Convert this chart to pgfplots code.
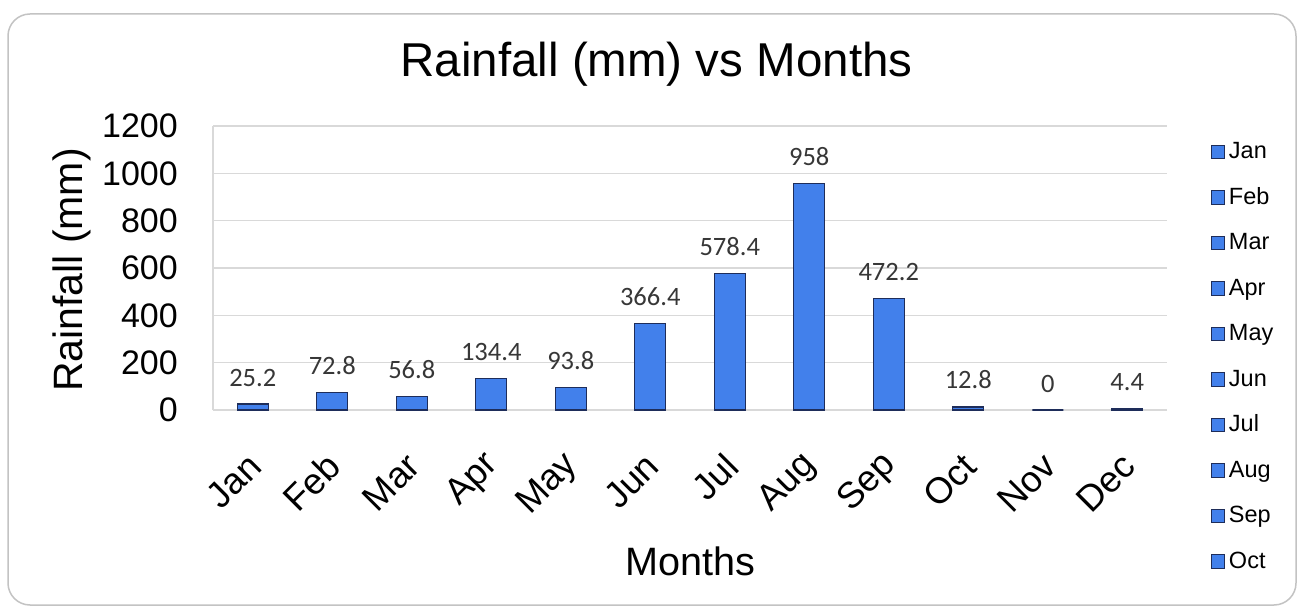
\documentclass[border=0pt]{standalone}
\usepackage{pgfplots}
\pgfplotsset{compat=1.18}
\usepackage{fontspec}
\setmainfont{Liberation Sans}
\newfontfamily\carlito{Carlito}
\definecolor{barblue}{RGB}{66,128,235}
\definecolor{barline}{RGB}{30,45,90}
\definecolor{gridgray}{RGB}{217,217,217}
\definecolor{framegray}{RGB}{195,195,195}
\definecolor{lblgray}{RGB}{55,55,55}
\pgfplotsset{legsq/.style={legend image code/.code={\draw[draw=barline, fill=barblue, line width=1pt] (0pt,-6pt) rectangle (13pt,7.5pt);}}}
\begin{document}
\begin{tikzpicture}[x=1pt,y=1pt]
\useasboundingbox (0,0) rectangle (1299,611);
\fill[white] (0,0) rectangle (1299,611);
\draw[framegray, line width=1.5pt, rounded corners=22pt] (8,6) rectangle (1296,597);
\node[anchor=base, font=\fontsize{47.5}{56}\selectfont] at (656.5,534) {Rainfall (mm) vs Months};
\begin{axis}[
  at={(213pt,201pt)}, anchor=south west,
  scale only axis, width=954pt, height=284pt,
  xmin=-0.5, xmax=11.5, ymin=0, ymax=1200,
  ytick={0,200,...,1200},
  xtick={0,...,11},
  xticklabels={Jan,Feb,Mar,Apr,May,Jun,Jul,Aug,Sep,Oct,Nov,Dec},
  axis x line=bottom, axis y line=left,
  axis line style={gridgray, line width=1.5pt, -},
  ymajorgrids, major grid style={gridgray, line width=1.5pt},
  major tick length=0pt,
  /pgf/number format/assume math mode=true,
  /pgf/number format/1000 sep={},
  yticklabel style={font=\fontsize{34}{40}\selectfont, inner sep=0pt, anchor=east, xshift=-35pt},
  xticklabel style={font=\fontsize{36.5}{42}\selectfont, inner sep=0pt, xshift=2pt, yshift=-50pt, rotate=45, anchor=east},
  ylabel={Rainfall (mm)},
  ylabel style={font=\fontsize{41}{48}\selectfont, at={(axis description cs:-0.1373,0.493)}, anchor=base},
  xlabel={Months},
  xlabel style={font=\fontsize{39.6}{46}\selectfont, at={(axis description cs:0.5,-0.581)}, anchor=base},
  legend style={at={(axis description cs:1.0461,0.9437)}, anchor=north west, draw=none, fill=none,
    inner sep=0pt, outer sep=0pt, row sep=23.5pt, column sep=4pt,
    font=\fontsize{23.5}{28}\selectfont,
    nodes={inner sep=0pt, text height=17pt, text depth=5pt}},
  legend cell align=left,
  legend entries={Jan,Feb,Mar,Apr,May,Jun,Jul,Aug,Sep,Oct},
]
\addplot[ybar, bar width=31pt, fill=barblue, draw=barline, line width=1.2pt, forget plot,
  nodes near coords, point meta=explicit symbolic,
  every node near coord/.append style={font=\carlito\fontsize{26.5}{30}\selectfont, text=lblgray, anchor=base, inner sep=0pt, yshift=18pt}]
  coordinates {
  (0,25.2) [25.2]
  (1,72.8) [72.8]
  (2,56.8) [56.8]
  (3,134.4) [134.4]
  (4,93.8) [93.8]
  (5,366.4) [366.4]
  (6,578.4) [578.4]
  (7,958) [958]
  (8,472.2) [472.2]
  (9,12.8) [12.8]
  (10,0) [0]
  (11,4.4) [4.4]
  };
\addlegendimage{legsq}
\addlegendimage{legsq}
\addlegendimage{legsq}
\addlegendimage{legsq}
\addlegendimage{legsq}
\addlegendimage{legsq}
\addlegendimage{legsq}
\addlegendimage{legsq}
\addlegendimage{legsq}
\addlegendimage{legsq}
\end{axis}
\end{tikzpicture}
\end{document}
